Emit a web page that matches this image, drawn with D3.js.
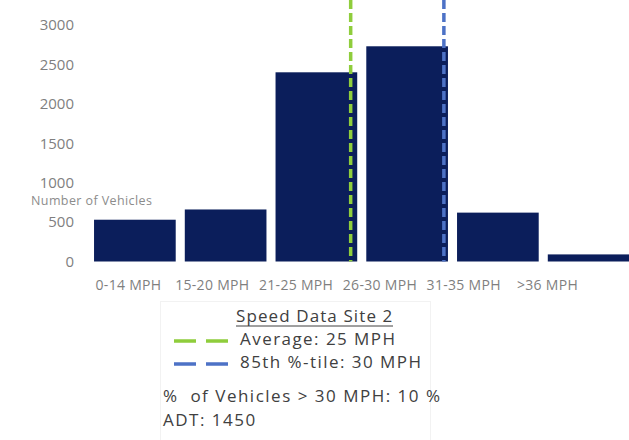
<!DOCTYPE html>
<html>
<head>
<meta charset="utf-8">
<script src="https://cdn.jsdelivr.net/npm/d3@7"></script>
<style>
  body { margin: 0; background: #fff; }
  text { font-family: "Open Sans", sans-serif; white-space: pre; }
</style>
</head>
<body>
<div id="chart"></div>
<script>
const layout = {
    width: 629,
    height: 440,
    baseY: 261.5,
    topY: 25,
    barLeft: 89.5,
    barRight: 634
};

// data
const categories = ["0-14 MPH", "15-20 MPH", "21-25 MPH", "26-30 MPH", "31-35 MPH", ">36 MPH"];
const vehicles = [530, 660, 2400, 2730, 620, 90];
const yTicks = [0, 500, 1000, 1500, 2000, 2500, 3000];

// speed markers: which bin they fall in, and how far across it
const markerNames = ["Average: 25 MPH", "85th %-tile: 30 MPH"];
const markerBins = ["21-25 MPH", "26-30 MPH"];
const markerPos = [0.92, 0.95];
const markerColors = ["#8fcd3c", "#4d72c6"];

const legendTitle = "Speed Data Site 2";
const noteLines = ["%  of Vehicles > 30 MPH: 10 %", "ADT: 1450"];

const svg = d3.select("#chart").append("svg")
    .attr("width", layout.width)
    .attr("height", layout.height);

const x = d3.scaleBand()
    .domain(categories)
    .range([layout.barLeft, layout.barRight])
    .paddingInner(0.1)
    .paddingOuter(0.05);

// the category labels sit on a tighter spacing than the bars
const xLabels = d3.scalePoint()
    .domain(categories)
    .range([128, 547]);

const y = d3.scaleLinear()
    .domain([0, 3000])
    .range([layout.baseY, layout.topY]);

// y axis, labels only
let yAxis = svg.append("g")
    .attr("transform", "translate(80,0)")
    .call(d3.axisLeft(y).tickValues(yTicks).tickFormat(d3.format("d")).tickSize(0).tickPadding(6));
yAxis.select(".domain").remove();
yAxis.selectAll("text")
    .attr("fill", "#7f7f7f")
    .attr("font-size", 15)
    .style("font-family", "'Open Sans', sans-serif");

svg.append("text")
    .attr("x", 31)
    .attr("y", 205)
    .text("Number of Vehicles")
    .attr("font-size", 12.5)
    .attr("letter-spacing", 0.4)
    .attr("fill", "#8c8c8c");

// bars
svg.selectAll(".bar")
    .data(vehicles)
    .enter().append("rect")
    .attr("class", "bar")
    .attr("x", (d, i) => x(categories[i]))
    .attr("y", d => y(d))
    .attr("width", x.bandwidth())
    .attr("height", d => y(0) - y(d))
    .attr("fill", "#0b1e5b");

// x labels
let xAxis = svg.append("g")
    .attr("transform", `translate(0,${layout.baseY})`)
    .call(d3.axisBottom(xLabels).tickSize(0).tickPadding(18.5));
xAxis.select(".domain").remove();
xAxis.selectAll("text")
    .attr("fill", "#7f7f7f")
    .attr("font-size", 14)
    .attr("letter-spacing", 0.3)
    .style("font-family", "'Open Sans', sans-serif");

// dashed speed markers
svg.selectAll(".marker")
    .data(markerBins)
    .enter().append("line")
    .attr("class", "marker")
    .attr("x1", (d, i) => x(d) + x.bandwidth() * markerPos[i])
    .attr("x2", (d, i) => x(d) + x.bandwidth() * markerPos[i])
    .attr("y1", 0)
    .attr("y2", layout.baseY)
    .attr("stroke", (d, i) => markerColors[i])
    .attr("stroke-width", 3.5)
    .attr("stroke-dasharray", "9,4");

// legend box
const legend = svg.append("g");
legend.append("rect")
    .attr("x", 160.5)
    .attr("y", 301.5)
    .attr("width", 270)
    .attr("height", 150)
    .attr("fill", "none")
    .attr("stroke", "#f2f2f2");

legend.append("text")
    .attr("x", 236)
    .attr("y", 322)
    .text(legendTitle)
    .attr("font-size", 17)
    .attr("letter-spacing", 1.1)
    .attr("fill", "#404040");
legend.append("line")
    .attr("x1", 236).attr("x2", 393)
    .attr("y1", 326).attr("y2", 326)
    .attr("stroke", "#404040")
    .attr("stroke-width", 1);

markerNames.forEach((name, i) => {
    let ty = 345 + i * 23;
    legend.append("line")
        .attr("x1", 174).attr("x2", 228)
        .attr("y1", ty - 4).attr("y2", ty - 4)
        .attr("stroke", markerColors[i])
        .attr("stroke-width", 3.5)
        .attr("stroke-dasharray", "22,10");
    legend.append("text")
        .attr("x", 240)
        .attr("y", ty)
        .text(name)
        .attr("font-size", 17)
        .attr("letter-spacing", 1.45)
        .attr("fill", "#404040");
});

noteLines.forEach((t, i) => {
    legend.append("text")
        .attr("x", 163)
        .attr("y", 402 + i * 23.5)
        .text(t)
        .attr("font-size", 17)
        .attr("letter-spacing", 1.5)
        .attr("fill", "#404040");
});
</script>
</body>
</html>
